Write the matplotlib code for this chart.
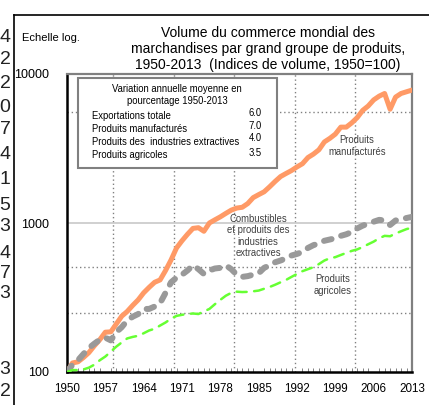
import matplotlib
matplotlib.use("Agg")
import matplotlib.pyplot as plt
import numpy as np
from matplotlib import font_manager
from matplotlib.patches import Rectangle
from matplotlib.lines import Line2D


years = np.arange(1950, 2014)

manufactures = [
    100, 115, 117, 125, 135, 150, 165, 185, 186, 210,
    237, 255, 280, 305, 340, 370, 400, 415, 480, 565,
    680, 760, 840, 920, 930, 880, 1000, 1050, 1100, 1160,
    1220, 1260, 1275, 1350, 1480, 1550, 1620, 1750, 1900, 2050,
    2150, 2250, 2380, 2500, 2750, 2900, 3100, 3500, 3700, 3950,
    4400, 4400, 4700, 5100, 5700, 6100, 6700, 7100, 7400, 5800,
    7000, 7400, 7600, 7800,
]
extractives = [
    100, 112, 120, 132, 145, 155, 165, 170, 163, 185,
    200, 222, 235, 245, 265, 265, 275, 290, 340, 400,
    430, 450, 480, 520, 490, 455, 480, 495, 500, 520,
    490, 450, 435, 440, 450, 460, 500, 520, 545, 560,
    580, 605, 620, 640, 680, 710, 730, 760, 775, 790,
    820, 840, 870, 920, 960, 990, 1020, 1050, 1040, 970,
    1040, 1060, 1080, 1100,
]
agricoles = [
    100, 103, 103, 104, 107, 112, 120, 127, 137, 148,
    158, 168, 172, 175, 182, 190, 195, 205, 215, 228,
    238, 242, 245, 247, 245, 255, 265, 285, 305, 325,
    340, 346, 344, 345, 348, 352, 362, 372, 385, 400,
    415, 435, 455, 475, 490, 505, 530, 560, 580, 590,
    610, 630, 650, 665, 690, 720, 750, 790, 820, 815,
    850, 880, 910, 930,
]

x_ticks = [1950, 1957, 1964, 1971, 1978, 1985, 1992, 1999, 2006, 2013]
y_ticks = [100, 1000, 10000]
grid_x = [1958.4, 1969.45, 1980.5, 1991.55, 2002.6]
grid_y = [250, 510, 5600]

legend_title = ["Variation annuelle moyenne en", "pourcentage 1950-2013"]
legend_labels = ["Exportations totale", "Produits manufacturés",
                 "Produits des  industries extractives", "Produits agricoles"]
legend_values = ["6.0", "7.0", "4.0", "3.5"]

# bits of a neighbouring table cut by the left edge
edge_digits = ["4", "2", "2", "0", "7", "4", "1", "5", "3", "4", "7", "3", "3", "2"]
edge_digit_y = [37, 60, 83, 107, 130, 155, 180, 205, 227, 253, 273, 293, 370, 392]

W, H = 429, 405

names = {f.name for f in font_manager.fontManager.ttflist}
if "Liberation Sans Narrow" in names:
    NARROW, NS = "Liberation Sans Narrow", 1.0
else:
    NARROW, NS = "Liberation Sans", 0.84
REG = "Liberation Sans"


def fx(x):
    return x / W


def fy(y):
    return 1 - y / H


fig = plt.figure(figsize=(W / 100, H / 100), dpi=100)
ax = fig.add_axes([fx(67), fy(372), (412 - 67) / W, (372 - 74) / H])

ax.plot(years, manufactures, color="#ff9a66", lw=3.6, solid_capstyle="round",
        solid_joinstyle="round", zorder=3)
ax.plot(years, extractives, color="#999999", lw=4.3, dashes=(1.3, 1.7),
        dash_capstyle="round", zorder=4)
ax.plot(years, agricoles, color="#66ff33", lw=1.8, dashes=(4.0, 3.0),
        dash_capstyle="round", zorder=5)

ax.set_yscale("log")
ax.set_xlim(1950, 2013)
ax.set_ylim(100, 10000)

for g in grid_x:
    ax.axvline(g, color="#808080", lw=1.0, ls=(0, (1, 2)), zorder=1)
for g in grid_y:
    ax.axhline(g, color="#808080", lw=1.0, ls=(0, (1, 2)), zorder=1)
ax.axhline(1000, color="#c8c8c8", lw=1.2, zorder=1)

ax.set_xticks(x_ticks)
ax.set_xticklabels([str(t) for t in x_ticks], fontfamily=NARROW, fontsize=10 * NS)
ax.set_xticks(np.arange(1950, 2014), minor=True)
ax.tick_params(axis="x", which="major", length=0, pad=8)
ax.tick_params(axis="x", which="minor", direction="in", length=3, width=0.7,
               color="#808080")
ax.set_yticks(y_ticks)
ax.set_yticklabels([str(t) for t in y_ticks], fontfamily=REG, fontsize=9)
ax.yaxis.set_minor_locator(matplotlib.ticker.NullLocator())
ax.tick_params(axis="y", which="major", length=0, pad=13)

for side in ["left", "bottom"]:
    ax.spines[side].set_color("black")
    ax.spines[side].set_linewidth(1.8)
for side in ["top", "right"]:
    ax.spines[side].set_color("#808080")
    ax.spines[side].set_linewidth(1.6)

# outer frame
fig.add_artist(Line2D([fx(14), fx(14)], [fy(14.5), 0], color="black", lw=1.2))
fig.add_artist(Line2D([fx(14), 1], [fy(14.5), fy(14.5)], color="black", lw=1.2))

for d, y in zip(edge_digits, edge_digit_y):
    fig.text(fx(10.5), fy(y), d, ha="right", va="center", fontfamily=REG,
             fontsize=14, color="#222222")

fig.text(fx(268), fy(49),
         "Volume du commerce mondial des\nmarchandises par grand groupe de produits,\n"
         "1950-2013  (Indices de volume, 1950=100)",
         ha="center", va="center", fontfamily=REG, fontsize=10, linespacing=1.15)
fig.text(fx(22), fy(38), "Echelle log.", ha="left", va="center",
         fontfamily=NARROW, fontsize=9.5 * NS)

# inner legend box
fig.add_artist(Rectangle((fx(78), fy(168)), fx(277) - fx(78), fy(78) - fy(168),
                         facecolor="white", edgecolor="#808080", lw=1.5, zorder=6))
fig.text(fx(177), fy(89), legend_title[0], ha="center", va="center",
         fontfamily=NARROW, fontsize=8.2 * NS, zorder=7)
fig.text(fx(177), fy(101), legend_title[1], ha="center", va="center",
         fontfamily=NARROW, fontsize=8.2 * NS, zorder=7)
for lab, val, yl, yv in zip(legend_labels, legend_values,
                            [116, 128.5, 142, 155], [113, 126, 138.5, 152.5]):
    fig.text(fx(92), fy(yl), lab, ha="left", va="center", fontfamily=NARROW,
             fontsize=8.2 * NS, zorder=7)
    fig.text(fx(262), fy(yv), val, ha="right", va="center", fontfamily=NARROW,
             fontsize=8.2 * NS, zorder=7)

note = dict(ha="center", va="center", fontfamily=NARROW, fontsize=8.2 * NS,
            color="#404040", linespacing=1.15)
fig.text(fx(357), fy(146), "Produits\nmanufacturés", **note)
fig.text(fx(258), fy(236), "Combustibles\net produits des\nindustries\nextractives", **note)
fig.text(fx(333), fy(285), "Produits\nagricoles", **note)

fig.savefig("out.png", dpi=100)
